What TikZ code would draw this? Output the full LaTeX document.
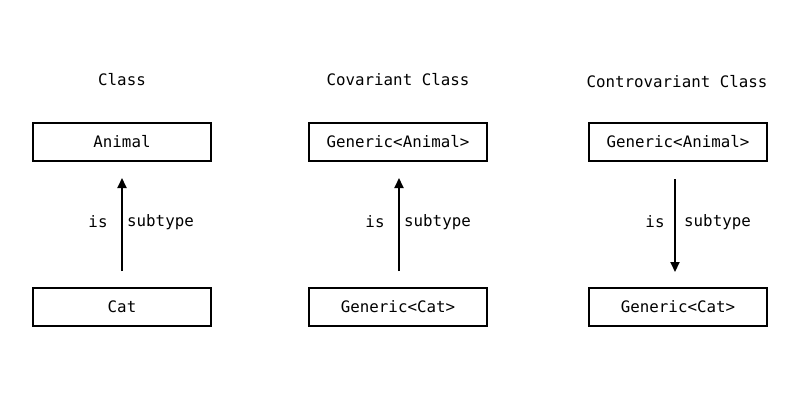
\documentclass[tikz,border=0pt]{standalone}
\usepackage{fontspec}
\setmonofont{DejaVu Sans Mono}
\usetikzlibrary{arrows.meta}
\begin{document}
\begin{tikzpicture}[x=1pt,y=-1pt,
  every node/.style={font=\ttfamily\fontsize{15.8}{18}\selectfont},
  box/.style={draw,line width=2pt,minimum width=178pt,minimum height=38pt,inner sep=0pt},
  txt/.style={inner sep=0pt},
  arr/.style={line width=2pt,-{Triangle[width=9pt,length=10pt]}}]
\useasboundingbox[fill=white] (0,0) rectangle (800,400);
% titles
\node[txt] (t1) at (122,80) {Class};
\node[txt] (t2) at (398,80) {Covariant Class};
\node[txt] (t3) at (677,82) {Controvariant Class};
% boxes
\node[box] (a1) at (122,142) {Animal};
\node[box] (c1) at (122,307) {Cat};
\node[box] (a2) at (398,142) {Generic<Animal>};
\node[box] (c2) at (398,307) {Generic<Cat>};
\node[box] (a3) at (678,142) {Generic<Animal>};
\node[box] (c3) at (678,307) {Generic<Cat>};
% arrows
\coordinate (p1s) at (122,271);
\coordinate (p1e) at (122,178);
\coordinate (p2s) at (399,271);
\coordinate (p2e) at (399,178);
\coordinate (p3s) at (675,179);
\coordinate (p3e) at (675,272);
\draw[arr] (p1s) -- (p1e);
\draw[arr] (p2s) -- (p2e);
\draw[arr] (p3s) -- (p3e);
% labels
\node[txt] (i1) at (98,222) {is};
\node[txt] (s1) at (160.5,222) {subtype};
\node[txt] (i2) at (375,222) {is};
\node[txt] (s2) at (437.5,222) {subtype};
\node[txt] (i3) at (655,222) {is};
\node[txt] (s3) at (717.5,222) {subtype};
\end{tikzpicture}
\end{document}
